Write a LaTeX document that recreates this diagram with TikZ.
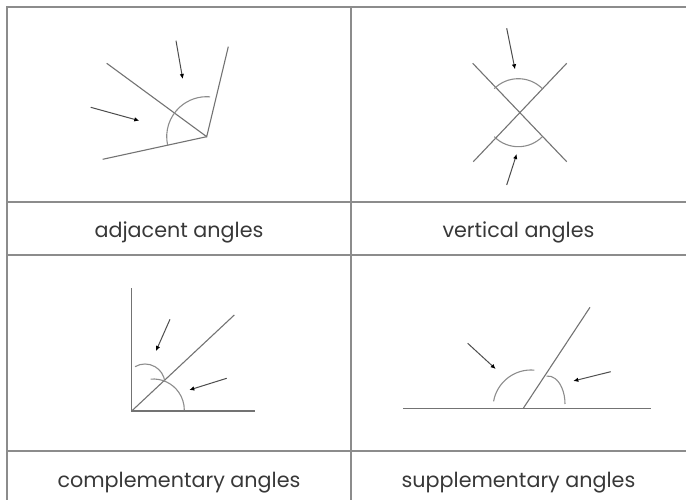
\documentclass[tikz,border=0pt]{standalone}
\usepackage{fontspec}
\setmainfont{Poppins}
\usepackage{tikz}
\usetikzlibrary{arrows.meta}

\begin{document}
\begin{tikzpicture}[
  x=1pt, y=1pt,
  grid/.style={draw=black!45, line width=1.6pt},
  ray/.style={draw=black!55, line width=1.1pt},
  anglearc/.style={draw=black!45, line width=1.1pt},
  pointer/.style={draw=black!70, line width=1pt, -{Latex[length=5pt,width=4.5pt,color=black]}},
  caption/.style={font=\fontsize{20.7}{24}\selectfont, text=black!78, anchor=base}
]
\useasboundingbox (0,0) rectangle (686,500);
% table
\draw[grid] (7,0) -- (7,493) -- (686,493);
\draw[grid] (351,0) -- (351,493);
\draw[grid] (7,298) -- (686,298);
\draw[grid] (7,245) -- (686,245);
\draw[grid] (7,49) -- (686,49);
\node[caption] (adjcap) at (179,262) {adjacent angles};
\node[caption] (vertcap) at (518.5,262) {vertical angles};
\node[caption] (compcap) at (179,12) {complementary angles};
\node[caption] (suppcap) at (518.5,12) {supplementary angles};

% adjacent angles
\coordinate (adjv) at (206.7,363.3);
\coordinate (adja) at (106.7,436.7);
\coordinate (adjb) at (228.3,453.3);
\coordinate (adjc) at (102.7,340.7);
\draw[ray] (adja) -- (adjv) -- (adjb);
\draw[ray] (adjc) -- (adjv);
\draw[anglearc] (adjv) ++(192:40pt) arc[start angle=192, end angle=85, radius=40pt];
\coordinate (adjp1) at (176,459.3);
\coordinate (adjq1) at (182.7,421);
\coordinate (adjp2) at (90.7,392.7);
\coordinate (adjq2) at (139.3,379.3);
\draw[pointer] (adjp1) -- (adjq1);
\draw[pointer] (adjp2) -- (adjq2);

% vertical angles
\coordinate (vertx) at (518.3,387.3);
\coordinate (verta) at (472.7,436.7);
\coordinate (vertb) at (566.7,338.3);
\coordinate (vertc) at (566.7,436.7);
\coordinate (vertd) at (473.3,338.3);
\draw[ray] (verta) -- (vertb);
\draw[ray] (vertc) -- (vertd);
\draw[anglearc] (vertx) ++(45:34pt) arc[start angle=45, end angle=135, radius=34pt];
\draw[anglearc] (vertx) ++(225:34pt) arc[start angle=225, end angle=315, radius=34pt];
\coordinate (vertp1) at (506.7,471.7);
\coordinate (vertq1) at (515,430.7);
\coordinate (vertp2) at (506.7,315);
\coordinate (vertq2) at (516.7,346);
\draw[pointer] (vertp1) -- (vertq1);
\draw[pointer] (vertp2) -- (vertq2);

% complementary angles
\coordinate (compv) at (131.7,89);
\coordinate (compa) at (131.7,211.7);
\coordinate (compb) at (255,89);
\coordinate (compc) at (234.3,185);
\draw[ray] (compa) -- (compv) -- (compb);
\draw[ray] (compv) -- (compc);
\draw[anglearc] (145,116) ++(120:20pt) arc[start angle=120, end angle=7, radius=20pt];
\draw[anglearc] (153.3,90) ++(95:31pt) arc[start angle=95, end angle=0, radius=31pt];
\coordinate (compp1) at (170,180.7);
\coordinate (compq1) at (156,149);
\coordinate (compp2) at (226.7,121.7);
\coordinate (compq2) at (189.3,110);
\draw[pointer] (compp1) -- (compq1);
\draw[pointer] (compp2) -- (compq2);

% supplementary angles
\coordinate (suppv) at (523.3,91.7);
\coordinate (suppa) at (403.3,91.7);
\coordinate (suppb) at (651,91.7);
\coordinate (suppc) at (590,192.7);
\draw[ray] (suppa) -- (suppb);
\draw[ray] (suppv) -- (suppc);
\draw[anglearc] (531,92) ++(170:38pt) arc[start angle=170, end angle=85, radius=38pt];
\draw[anglearc] (548,96) ++(95:17pt and 28pt) arc[start angle=95, end angle=0, x radius=17pt, y radius=28pt];
\coordinate (suppp1) at (467.7,156.7);
\coordinate (suppq1) at (495.7,131);
\coordinate (suppp2) at (610.7,128.3);
\coordinate (suppq2) at (573.3,119);
\draw[pointer] (suppp1) -- (suppq1);
\draw[pointer] (suppp2) -- (suppq2);
\end{tikzpicture}
\end{document}
